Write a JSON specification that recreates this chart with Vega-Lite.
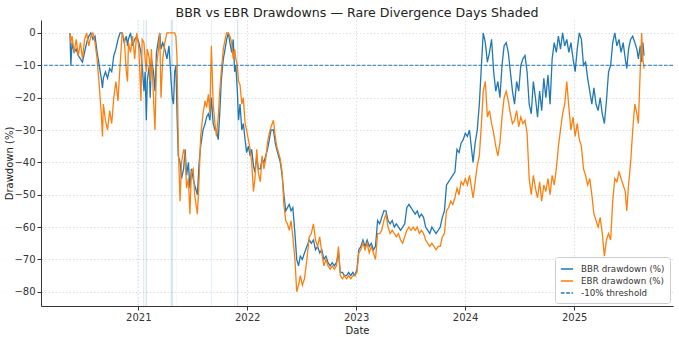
{
  "$schema": "https://vega.github.io/schema/vega-lite/v6.json",
  "width": 632,
  "height": 286,
  "autosize": {"type": "none"},
  "padding": {"left": 41, "top": 20, "right": 6, "bottom": 31},
  "background": "white",
  "title": {"text": "BBR vs EBR Drawdowns — Rare Divergence Days Shaded", "font": "DejaVu Sans", "fontSize": 12.6, "fontWeight": "normal", "color": "#222", "anchor": "middle", "offset": 0.5},
  "config": {
    "font": "DejaVu Sans",
    "view": {"stroke": null},
    "axis": {"labelFont": "DejaVu Sans", "labelFontSize": 10, "labelColor": "#333", "titleFont": "DejaVu Sans", "titleFontSize": 10, "titleFontWeight": "normal", "titleColor": "#222", "domainColor": "#333", "tickColor": "#333", "tickSize": 4, "gridColor": "#d6d6d6", "gridDash": [1.5, 2], "gridWidth": 0.8, "labelOverlap": false},
    "legend": {"orient": "bottom-right", "offset": 3, "symbolType": "stroke", "symbolSize": 150, "symbolStrokeWidth": 1.5, "labelFontSize": 8.7, "labelColor": "#333", "labelFont": "DejaVu Sans", "fillColor": "white", "strokeColor": "#cccccc", "padding": 5, "cornerRadius": 3, "rowPadding": 0, "labelOffset": 7}
  },
  "datasets": {
    "dd": [
      {"d":"2020-05-17","b":0,"e":0},{"d":"2020-05-20","b":-10,"e":-3},{"d":"2020-05-24","b":-3,"e":-1},{"d":"2020-05-31","b":-6,"e":-6},
      {"d":"2020-06-07","b":-5,"e":-2},{"d":"2020-06-14","b":-7,"e":-7},{"d":"2020-06-21","b":-8,"e":-3},{"d":"2020-06-28","b":-9,"e":-8},
      {"d":"2020-07-05","b":-6,"e":-2},{"d":"2020-07-12","b":-3,"e":0},{"d":"2020-07-19","b":-1,"e":-4},{"d":"2020-07-26","b":0,"e":-1},
      {"d":"2020-08-02","b":-2,"e":0},{"d":"2020-08-09","b":-1,"e":-3},{"d":"2020-08-16","b":-6,"e":-8},{"d":"2020-08-23","b":-10,"e":-16},
      {"d":"2020-08-30","b":-14,"e":-25},{"d":"2020-09-03","b":-17,"e":-32},{"d":"2020-09-06","b":-14,"e":-22},{"d":"2020-09-13","b":-12,"e":-27},
      {"d":"2020-09-20","b":-14,"e":-30},{"d":"2020-09-27","b":-11,"e":-24},{"d":"2020-10-04","b":-12,"e":-28},{"d":"2020-10-11","b":-7,"e":-20},
      {"d":"2020-10-18","b":-5,"e":-15},{"d":"2020-10-25","b":-2,"e":-21},{"d":"2020-11-01","b":0,"e":-10},{"d":"2020-11-08","b":0,"e":0},
      {"d":"2020-11-15","b":-3,"e":-2},{"d":"2020-11-22","b":-1,"e":-12},{"d":"2020-11-26","b":-4,"e":-15},{"d":"2020-11-29","b":-2,"e":-3},
      {"d":"2020-12-06","b":0,"e":-6},{"d":"2020-12-13","b":-4,"e":-1},{"d":"2020-12-20","b":-2,"e":-8},{"d":"2020-12-27","b":-1,"e":0},
      {"d":"2021-01-03","b":-3,"e":-5},{"d":"2021-01-10","b":-6,"e":-21},{"d":"2021-01-14","b":-10,"e":-2},{"d":"2021-01-20","b":-18,"e":-3},
      {"d":"2021-01-24","b":-12,"e":-8},{"d":"2021-01-28","b":-27,"e":-12},{"d":"2021-01-31","b":-15,"e":-5},{"d":"2021-02-07","b":-10,"e":-8},
      {"d":"2021-02-10","b":-20,"e":-15},{"d":"2021-02-14","b":-8,"e":-5},{"d":"2021-02-21","b":-12,"e":-20},{"d":"2021-02-26","b":-18,"e":-30},
      {"d":"2021-03-03","b":-6,"e":-10},{"d":"2021-03-10","b":-2,"e":-5},{"d":"2021-03-14","b":0,"e":0},{"d":"2021-03-18","b":-5,"e":-20},
      {"d":"2021-03-24","b":-3,"e":-8},{"d":"2021-03-31","b":-5,"e":-3},{"d":"2021-04-07","b":-8,"e":0},{"d":"2021-04-14","b":-4,"e":0},
      {"d":"2021-04-21","b":-15,"e":0},{"d":"2021-04-25","b":-20,"e":0},{"d":"2021-04-29","b":-22,"e":0},{"d":"2021-05-03","b":-12,"e":0},
      {"d":"2021-05-07","b":-10,"e":-1},{"d":"2021-05-11","b":-25,"e":-8},{"d":"2021-05-15","b":-38,"e":-35},{"d":"2021-05-21","b":-40,"e":-52},
      {"d":"2021-05-26","b":-45,"e":-40},{"d":"2021-06-02","b":-42,"e":-36},{"d":"2021-06-07","b":-36,"e":-38},{"d":"2021-06-12","b":-44,"e":-48},
      {"d":"2021-06-18","b":-40,"e":-45},{"d":"2021-06-23","b":-48,"e":-56},{"d":"2021-06-28","b":-42,"e":-43},{"d":"2021-07-04","b":-45,"e":-42},
      {"d":"2021-07-09","b":-47,"e":-50},{"d":"2021-07-18","b":-50,"e":-56},{"d":"2021-07-24","b":-40,"e":-45},{"d":"2021-07-29","b":-35,"e":-32},
      {"d":"2021-08-06","b":-30,"e":-25},{"d":"2021-08-13","b":-28,"e":-21},{"d":"2021-08-18","b":-26,"e":-23},{"d":"2021-08-24","b":-25,"e":-19},
      {"d":"2021-08-29","b":-27,"e":-25},{"d":"2021-09-03","b":-20,"e":-4},{"d":"2021-09-09","b":-28,"e":-22},{"d":"2021-09-15","b":-30,"e":-28},
      {"d":"2021-09-20","b":-30,"e":-32},{"d":"2021-09-26","b":-33,"e":-26},{"d":"2021-10-01","b":-25,"e":-18},{"d":"2021-10-06","b":-15,"e":-12},
      {"d":"2021-10-13","b":-8,"e":-5},{"d":"2021-10-19","b":-5,"e":-2},{"d":"2021-10-24","b":-2,"e":0},{"d":"2021-10-30","b":0,"e":0},
      {"d":"2021-11-04","b":-3,"e":-1},{"d":"2021-11-10","b":-6,"e":-3},{"d":"2021-11-15","b":-2,"e":-8},{"d":"2021-11-20","b":-12,"e":-5},
      {"d":"2021-11-24","b":-10,"e":-8},{"d":"2021-11-29","b":-18,"e":-10},{"d":"2021-12-03","b":-27,"e":-15},{"d":"2021-12-08","b":-22,"e":-16},
      {"d":"2021-12-14","b":-30,"e":-22},{"d":"2021-12-19","b":-28,"e":-20},{"d":"2021-12-25","b":-33,"e":-28},{"d":"2021-12-30","b":-37,"e":-30},
      {"d":"2022-01-05","b":-35,"e":-33},{"d":"2022-01-11","b":-38,"e":-36},{"d":"2022-01-16","b":-36,"e":-40},{"d":"2022-01-22","b":-41,"e":-49},
      {"d":"2022-01-27","b":-43,"e":-45},{"d":"2022-02-02","b":-38,"e":-36},{"d":"2022-02-07","b":-42,"e":-43},{"d":"2022-02-14","b":-42,"e":-46},
      {"d":"2022-02-20","b":-39,"e":-38},{"d":"2022-02-26","b":-40,"e":-42},{"d":"2022-03-04","b":-38,"e":-39},{"d":"2022-03-10","b":-36,"e":-34},
      {"d":"2022-03-16","b":-33,"e":-31},{"d":"2022-03-22","b":-30,"e":-29},{"d":"2022-03-30","b":-30,"e":-27},{"d":"2022-04-05","b":-34,"e":-32},
      {"d":"2022-04-10","b":-36,"e":-35},{"d":"2022-04-16","b":-38,"e":-37},{"d":"2022-04-22","b":-40,"e":-39},{"d":"2022-04-28","b":-44,"e":-43},
      {"d":"2022-05-04","b":-50,"e":-53},{"d":"2022-05-10","b":-55,"e":-58},{"d":"2022-05-16","b":-54,"e":-59},{"d":"2022-05-22","b":-53,"e":-61},
      {"d":"2022-05-28","b":-55,"e":-58},{"d":"2022-06-03","b":-54,"e":-63},{"d":"2022-06-10","b":-62,"e":-70},{"d":"2022-06-16","b":-70,"e":-80},
      {"d":"2022-06-22","b":-72,"e":-78},{"d":"2022-06-28","b":-69,"e":-75},{"d":"2022-07-05","b":-70,"e":-78},{"d":"2022-07-12","b":-68,"e":-76},
      {"d":"2022-07-20","b":-66,"e":-70},{"d":"2022-07-28","b":-64,"e":-63},{"d":"2022-08-04","b":-65,"e":-62},{"d":"2022-08-11","b":-64,"e":-59},
      {"d":"2022-08-18","b":-67,"e":-64},{"d":"2022-08-25","b":-66,"e":-66},{"d":"2022-09-01","b":-68,"e":-63},{"d":"2022-09-08","b":-67,"e":-68},
      {"d":"2022-09-15","b":-70,"e":-72},{"d":"2022-09-22","b":-69,"e":-70},{"d":"2022-09-29","b":-71,"e":-72},{"d":"2022-10-06","b":-72,"e":-73},
      {"d":"2022-10-13","b":-71,"e":-72},{"d":"2022-10-20","b":-72,"e":-73},{"d":"2022-10-27","b":-71,"e":-72},{"d":"2022-11-03","b":-68,"e":-66},
      {"d":"2022-11-09","b":-74,"e":-75},{"d":"2022-11-16","b":-74,"e":-76},{"d":"2022-11-23","b":-75,"e":-75},{"d":"2022-11-30","b":-75,"e":-76},
      {"d":"2022-12-07","b":-74,"e":-75},{"d":"2022-12-14","b":-75,"e":-76},{"d":"2022-12-21","b":-74,"e":-75},{"d":"2022-12-28","b":-75,"e":-75},
      {"d":"2023-01-04","b":-73,"e":-74},{"d":"2023-01-10","b":-67,"e":-68},{"d":"2023-01-17","b":-66,"e":-67},{"d":"2023-01-24","b":-64,"e":-65},
      {"d":"2023-01-31","b":-66,"e":-67},{"d":"2023-02-07","b":-64,"e":-65},{"d":"2023-02-14","b":-66,"e":-68},{"d":"2023-02-21","b":-65,"e":-66},
      {"d":"2023-02-28","b":-67,"e":-68},{"d":"2023-03-07","b":-66,"e":-70},{"d":"2023-03-14","b":-58,"e":-62},{"d":"2023-03-21","b":-59,"e":-62},
      {"d":"2023-03-28","b":-57,"e":-61},{"d":"2023-04-04","b":-55,"e":-58},{"d":"2023-04-11","b":-55,"e":-56},{"d":"2023-04-18","b":-58,"e":-60},
      {"d":"2023-04-25","b":-59,"e":-62},{"d":"2023-05-02","b":-58,"e":-61},{"d":"2023-05-09","b":-60,"e":-62},{"d":"2023-05-16","b":-59,"e":-63},
      {"d":"2023-05-23","b":-60,"e":-62},{"d":"2023-05-30","b":-61,"e":-64},{"d":"2023-06-06","b":-60,"e":-65},{"d":"2023-06-13","b":-59,"e":-63},
      {"d":"2023-06-20","b":-54,"e":-61},{"d":"2023-06-27","b":-53,"e":-60},{"d":"2023-07-04","b":-54,"e":-61},{"d":"2023-07-11","b":-55,"e":-60},
      {"d":"2023-07-18","b":-56,"e":-61},{"d":"2023-07-25","b":-55,"e":-60},{"d":"2023-08-01","b":-57,"e":-62},{"d":"2023-08-08","b":-56,"e":-61},
      {"d":"2023-08-15","b":-57,"e":-62},{"d":"2023-08-22","b":-60,"e":-64},{"d":"2023-08-29","b":-61,"e":-65},{"d":"2023-09-05","b":-62,"e":-66},
      {"d":"2023-09-12","b":-60,"e":-65},{"d":"2023-09-19","b":-61,"e":-66},{"d":"2023-09-26","b":-62,"e":-67},{"d":"2023-10-03","b":-61,"e":-66},
      {"d":"2023-10-10","b":-60,"e":-66},{"d":"2023-10-17","b":-57,"e":-63},{"d":"2023-10-24","b":-55,"e":-62},{"d":"2023-10-31","b":-47,"e":-55},
      {"d":"2023-11-07","b":-46,"e":-54},{"d":"2023-11-14","b":-45,"e":-52},{"d":"2023-11-21","b":-44,"e":-53},{"d":"2023-11-28","b":-43,"e":-51},
      {"d":"2023-12-05","b":-36,"e":-48},{"d":"2023-12-12","b":-37,"e":-50},{"d":"2023-12-19","b":-34,"e":-46},{"d":"2023-12-26","b":-33,"e":-47},
      {"d":"2024-01-02","b":-31,"e":-45},{"d":"2024-01-09","b":-32,"e":-47},{"d":"2024-01-16","b":-30,"e":-44},{"d":"2024-01-23","b":-36,"e":-48},
      {"d":"2024-01-28","b":-40,"e":-51},{"d":"2024-02-04","b":-34,"e":-46},{"d":"2024-02-11","b":-30,"e":-41},{"d":"2024-02-18","b":-22,"e":-38},
      {"d":"2024-02-25","b":-10,"e":-28},{"d":"2024-03-02","b":0,"e":-18},{"d":"2024-03-09","b":-3,"e":-15},{"d":"2024-03-16","b":-9,"e":-26},
      {"d":"2024-03-23","b":-6,"e":-24},{"d":"2024-03-30","b":-2,"e":-28},{"d":"2024-04-06","b":-12,"e":-31},{"d":"2024-04-13","b":-18,"e":-35},
      {"d":"2024-04-20","b":-15,"e":-38},{"d":"2024-04-27","b":-20,"e":-34},{"d":"2024-05-04","b":-10,"e":-26},{"d":"2024-05-11","b":-4,"e":-20},
      {"d":"2024-05-18","b":-3,"e":-18},{"d":"2024-05-25","b":-6,"e":-21},{"d":"2024-06-01","b":-12,"e":-25},{"d":"2024-06-08","b":-18,"e":-28},
      {"d":"2024-06-15","b":-22,"e":-27},{"d":"2024-06-22","b":-15,"e":-24},{"d":"2024-06-29","b":-18,"e":-29},{"d":"2024-07-06","b":-10,"e":-26},
      {"d":"2024-07-13","b":-8,"e":-28},{"d":"2024-07-20","b":-7,"e":-27},{"d":"2024-07-27","b":-12,"e":-31},{"d":"2024-08-03","b":-22,"e":-45},
      {"d":"2024-08-10","b":-25,"e":-50},{"d":"2024-08-17","b":-15,"e":-44},{"d":"2024-08-24","b":-20,"e":-48},{"d":"2024-08-31","b":-26,"e":-51},
      {"d":"2024-09-07","b":-18,"e":-46},{"d":"2024-09-14","b":-24,"e":-52},{"d":"2024-09-21","b":-14,"e":-47},{"d":"2024-09-28","b":-20,"e":-49},
      {"d":"2024-10-05","b":-13,"e":-45},{"d":"2024-10-12","b":-22,"e":-50},{"d":"2024-10-19","b":-8,"e":-44},{"d":"2024-10-26","b":-3,"e":-47},
      {"d":"2024-11-02","b":-6,"e":-42},{"d":"2024-11-09","b":-1,"e":-35},{"d":"2024-11-16","b":-5,"e":-30},{"d":"2024-11-23","b":0,"e":-25},
      {"d":"2024-11-30","b":-4,"e":-22},{"d":"2024-12-07","b":-2,"e":-15},{"d":"2024-12-14","b":-6,"e":-23},{"d":"2024-12-21","b":-3,"e":-30},
      {"d":"2024-12-28","b":-8,"e":-26},{"d":"2025-01-04","b":-12,"e":-32},{"d":"2025-01-11","b":-5,"e":-28},{"d":"2025-01-18","b":0,"e":-33},
      {"d":"2025-01-25","b":-2,"e":-35},{"d":"2025-02-01","b":-10,"e":-42},{"d":"2025-02-08","b":-9,"e":-44},{"d":"2025-02-15","b":-14,"e":-47},
      {"d":"2025-02-22","b":-18,"e":-45},{"d":"2025-03-01","b":-22,"e":-50},{"d":"2025-03-08","b":-17,"e":-56},{"d":"2025-03-15","b":-22,"e":-58},
      {"d":"2025-03-22","b":-24,"e":-60},{"d":"2025-03-29","b":-20,"e":-57},{"d":"2025-04-05","b":-25,"e":-62},{"d":"2025-04-12","b":-28,"e":-69},
      {"d":"2025-04-19","b":-21,"e":-64},{"d":"2025-04-26","b":-12,"e":-62},{"d":"2025-05-03","b":-10,"e":-64},{"d":"2025-05-10","b":-3,"e":-52},
      {"d":"2025-05-17","b":0,"e":-45},{"d":"2025-05-24","b":-4,"e":-46},{"d":"2025-05-31","b":-2,"e":-43},{"d":"2025-06-07","b":-6,"e":-45},
      {"d":"2025-06-14","b":-3,"e":-47},{"d":"2025-06-21","b":-8,"e":-49},{"d":"2025-06-26","b":-11,"e":-55},{"d":"2025-07-02","b":-5,"e":-47},
      {"d":"2025-07-09","b":-2,"e":-40},{"d":"2025-07-16","b":-1,"e":-30},{"d":"2025-07-23","b":-3,"e":-22},{"d":"2025-07-30","b":-5,"e":-25},
      {"d":"2025-08-04","b":-8,"e":-28},{"d":"2025-08-10","b":-4,"e":-12},{"d":"2025-08-15","b":-9,"e":0},{"d":"2025-08-19","b":-3,"e":-8},
      {"d":"2025-08-23","b":-7,"e":-11}
    ],
    "bands": [
      {"a":"2020-12-30","z":"2020-12-31"},{"a":"2021-01-18","z":"2021-01-21"},{"a":"2021-01-26","z":"2021-01-30"},
      {"a":"2021-04-20","z":"2021-04-27"},{"a":"2021-05-10","z":"2021-05-11"},{"a":"2021-09-02","z":"2021-09-04"},
      {"a":"2021-11-19","z":"2021-11-20"},{"a":"2021-11-28","z":"2021-12-02"}
    ]
  },
  "layer": [
    {
      "data": {"name": "bands"},
      "mark": {"type": "rect", "color": "#1f77b4", "opacity": 0.2},
      "encoding": {
        "x": {"field": "a", "type": "temporal", "scale": {"domain": [{"year": 2020, "month": 2, "date": 10}, {"year": 2025, "month": 11, "date": 28}]},
              "axis": {"title": "Date", "format": "%Y", "tickCount": {"interval": "year", "step": 1}, "grid": true, "labelPadding": 2, "titlePadding": 3, "labelFlush": false}},
        "x2": {"field": "z"}
      }
    },
    {
      "data": {"name": "dd"},
      "transform": [{"fold": ["b", "e"], "as": ["s", "v"]}],
      "mark": {"type": "line", "strokeWidth": 1.3},
      "encoding": {
        "x": {"field": "d", "type": "temporal", "title": "Date"},
        "y": {"field": "v", "type": "quantitative", "scale": {"domain": [-84.4, 4], "nice": false, "zero": false},
              "axis": {"title": "Drawdown (%)", "values": [0, -10, -20, -30, -40, -50, -60, -70, -80], "tickCount": 12, "grid": true, "labelPadding": 2, "labelOverlap": false, "titleX": -32, "titleY": 143, "titleAngle": -90, "titleBaseline": "middle", "titleAlign": "center"}},
        "color": {"field": "s", "type": "nominal", "scale": {"domain": ["b", "e", "t"], "range": ["#1f77b4", "#ff7f0e", "#1f77b4"]},
                  "legend": {"title": null, "labelExpr": "datum.value == 'b' ? 'BBR drawdown (%)' : datum.value == 'e' ? 'EBR drawdown (%)' : '-10% threshold'"}},
        "strokeDash": {"field": "s", "type": "nominal", "scale": {"domain": ["b", "e", "t"], "range": [[1, 0], [1, 0], [3.7, 1.6]]},
                  "legend": {"title": null, "labelExpr": "datum.value == 'b' ? 'BBR drawdown (%)' : datum.value == 'e' ? 'EBR drawdown (%)' : '-10% threshold'"}}
      }
    },
    {
      "data": {"values": [{"s": "t", "v": -10}]},
      "mark": {"type": "rule", "strokeWidth": 1},
      "encoding": {
        "y": {"field": "v", "type": "quantitative"},
        "color": {"field": "s", "type": "nominal"},
        "strokeDash": {"field": "s", "type": "nominal"}
      }
    }
  ]
}
